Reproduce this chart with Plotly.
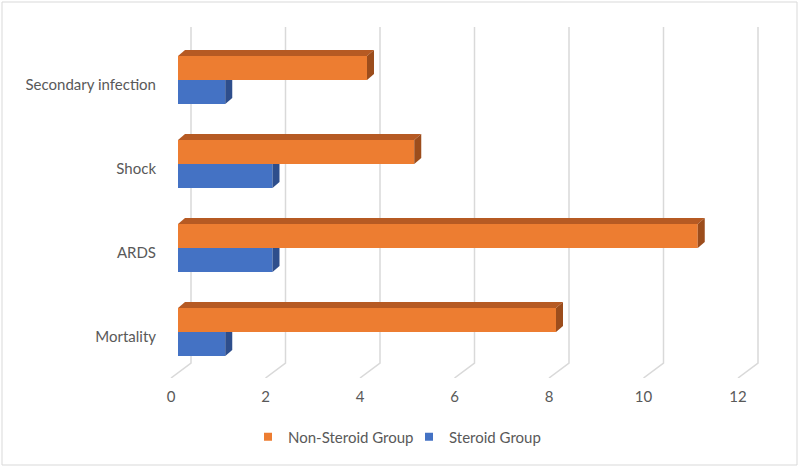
import plotly.graph_objects as go

categories = ["Mortality", "ARDS", "Shock", "Secondary infection"]
non_steroid = [8, 11, 5, 4]
steroid = [1, 2, 2, 1]
x_ticks = [0, 2, 4, 6, 8, 10, 12]

W, H = 800, 468
ORANGE, ORANGE_TOP, ORANGE_SIDE = "#ED7D31", "#B65A23", "#9C4D1C"
BLUE, BLUE_SIDE = "#4472C4", "#2E4E8C"
GRID = "#D9D9D9"
FONT = "Lato"
TXT = "#595959"
FS = 15

# pixel layout
PX_UNIT = 47.25
back_left, back_right = 160, 790
back_zero = 191
grid_top, grid_bot_back, grid_bot_front = 27, 363, 378
bar_left, bar_right = 178, 790
bar_top, bar_bot = 38, 374
n_cat = len(categories)
cat_px = (bar_bot - bar_top) / n_cat
bw = 24 / cat_px          # bar thickness in category units
ddx = 7 / PX_UNIT         # 3D depth offset (x units)
ddy = 6 / cat_px          # 3D depth offset (category units)

fig = go.Figure()

# back-plane gridlines + floor diagonals (subplot x/y)
gy_span = grid_bot_front - grid_top
gy_back = (grid_bot_front - grid_bot_back) / gy_span
diag = 20 / PX_UNIT
gx, gyv = [], []
for t in x_ticks:
    gx += [t, t, t - diag, None]
    gyv += [1, gy_back, 0, None]
fig.add_trace(go.Scatter(x=gx, y=gyv, mode="lines", line=dict(color=GRID, width=1.5),
                         hoverinfo="skip", showlegend=False, xaxis="x", yaxis="y"))

# bars (subplot x2/y2)
ypos = list(range(n_cat))
fig.add_trace(go.Bar(y=ypos, x=steroid, orientation="h", name="Steroid Group",
                     marker=dict(color=BLUE, line=dict(width=0)), width=bw, offset=-bw,
                     showlegend=False, xaxis="x2", yaxis="y2"))
fig.add_trace(go.Bar(y=ypos, x=non_steroid, orientation="h", name="Non-Steroid Group",
                     marker=dict(color=ORANGE, line=dict(width=0)), width=bw, offset=0,
                     showlegend=False, xaxis="x2", yaxis="y2"))

# legend entries (small square keys)
for name, col in [("Non-Steroid Group", ORANGE), ("Steroid Group", BLUE)]:
    fig.add_trace(go.Scatter(x=[None], y=[None], mode="markers", name=name,
                             marker=dict(symbol="square", size=8, color=col),
                             xaxis="x2", yaxis="y2"))

shapes = []
for i, (vo, vb) in enumerate(zip(non_steroid, steroid)):
    top = i + bw
    shapes.append(dict(type="path", xref="x2", yref="y2", line=dict(width=0), fillcolor=ORANGE_TOP,
                       path=f"M 0,{top} L {vo},{top} L {vo+ddx},{top+ddy} L {ddx},{top+ddy} Z"))
    shapes.append(dict(type="path", xref="x2", yref="y2", line=dict(width=0), fillcolor=ORANGE_SIDE,
                       path=f"M {vo},{i} L {vo+ddx},{i+ddy} L {vo+ddx},{top+ddy} L {vo},{top} Z"))
    shapes.append(dict(type="path", xref="x2", yref="y2", line=dict(width=0), fillcolor=BLUE_SIDE,
                       path=f"M {vb},{i-bw} L {vb+ddx},{i-bw+ddy} L {vb+ddx},{i} L {vb},{i} Z"))
# chart border
shapes.append(dict(type="rect", xref="paper", yref="paper", x0=2/W, x1=1-3/W, y0=3/H, y1=1-2/H,
                   line=dict(color=GRID, width=1), fillcolor="rgba(0,0,0,0)", layer="below"))

fig.update_layout(
    width=W, height=H,
    margin=dict(l=0, r=0, t=0, b=0),
    paper_bgcolor="white", plot_bgcolor="rgba(0,0,0,0)",
    font=dict(family=FONT, color=TXT, size=FS),
    barmode="overlay",
    shapes=shapes,
    xaxis=dict(domain=[back_left/W, back_right/W],
               range=[(back_left-back_zero)/PX_UNIT, (back_right-back_zero)/PX_UNIT],
               tickvals=x_ticks, ticktext=[str(t) for t in x_ticks],
               showgrid=False, zeroline=False, showline=False, ticks="",
               ticklabelshift=-20, ticklabelstandoff=8,
               tickfont=dict(size=FS, color=TXT), fixedrange=True),
    yaxis=dict(domain=[1-grid_bot_front/H, 1-grid_top/H], range=[0, 1],
               visible=False, fixedrange=True),
    xaxis2=dict(domain=[bar_left/W, bar_right/W], range=[0, (bar_right-bar_left)/PX_UNIT],
                anchor="y2", visible=False, fixedrange=True),
    yaxis2=dict(domain=[1-bar_bot/H, 1-bar_top/H], range=[-0.5, n_cat-0.5],
                anchor="x2", tickvals=ypos, ticktext=categories,
                showgrid=False, zeroline=False, showline=False, ticks="",
                ticklabelshift=5, ticklabelstandoff=21,
                tickfont=dict(size=FS, color=TXT), fixedrange=True),
    legend=dict(orientation="h", x=248/W, xanchor="left", y=1-437/H, yanchor="middle",
                font=dict(size=FS, color=TXT), itemwidth=30,
                entrywidth=116, entrywidthmode="pixels"),
    showlegend=True,
)

fig.write_html("out.html", config={"displayModeBar": False},
               post_script="document.body.style.margin='0';")
